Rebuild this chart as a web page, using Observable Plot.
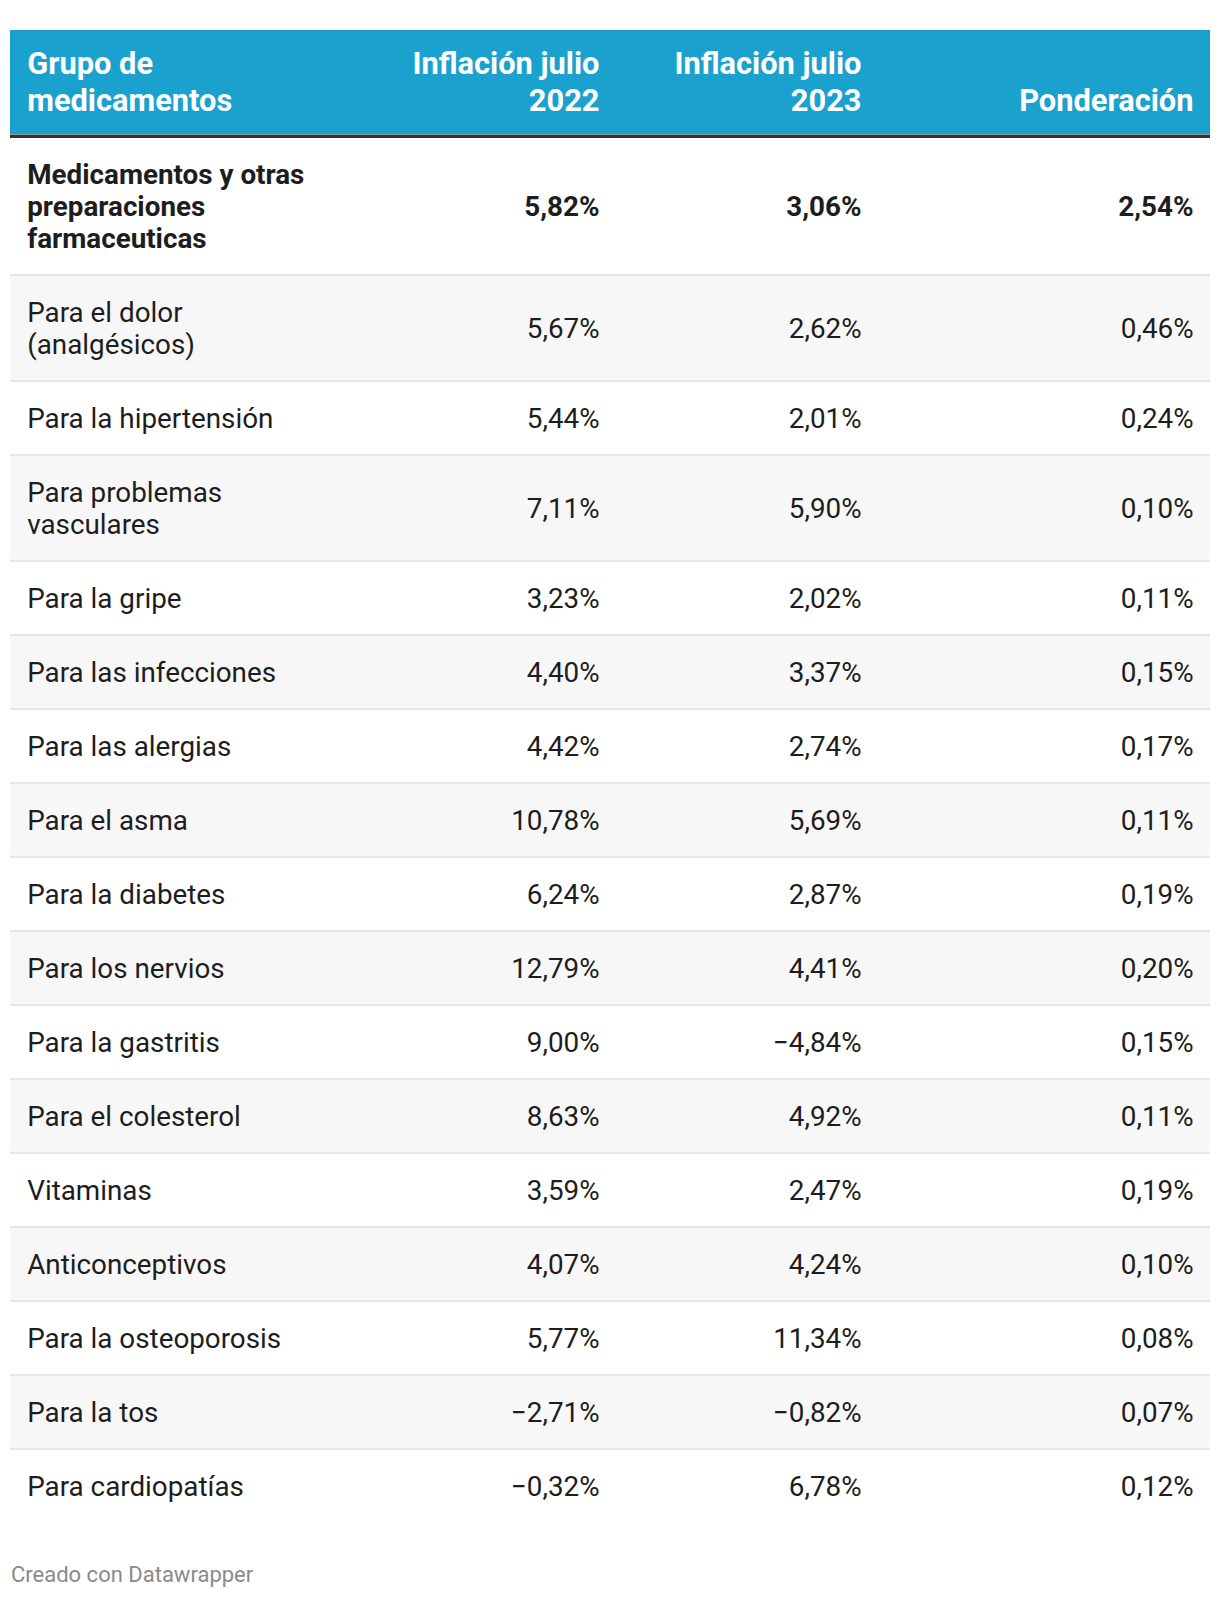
<!DOCTYPE html>
<html>
<head>
<meta charset="utf-8">
<script src="https://cdn.jsdelivr.net/npm/d3@7"></script>
<script src="https://cdn.jsdelivr.net/npm/@observablehq/plot@0.6"></script>
<style>
  html, body { margin: 0; padding: 0; background: #ffffff; }
  #footer { font-family: Roboto, "Liberation Sans", sans-serif; font-size: 22px; line-height: 25px; color: #8a8a8a; margin-left: 11px; padding-top: 7px; }
</style>
</head>
<body>
<div id="chart"></div>
<div id="footer"></div>
<script>
// ---- data ----
const headers = ["Grupo de\nmedicamentos", "Inflación julio\n2022", "Inflación julio\n2023", "Ponderación"];
const groups = [
  "Medicamentos y otras\npreparaciones\nfarmaceuticas",
  "Para el dolor\n(analgésicos)",
  "Para la hipertensión",
  "Para problemas\nvasculares",
  "Para la gripe",
  "Para las infecciones",
  "Para las alergias",
  "Para el asma",
  "Para la diabetes",
  "Para los nervios",
  "Para la gastritis",
  "Para el colesterol",
  "Vitaminas",
  "Anticonceptivos",
  "Para la osteoporosis",
  "Para la tos",
  "Para cardiopatías"
];
const infl2022 = [5.82, 5.67, 5.44, 7.11, 3.23, 4.40, 4.42, 10.78, 6.24, 12.79, 9.00, 8.63, 3.59, 4.07, 5.77, -2.71, -0.32];
const infl2023 = [3.06, 2.62, 2.01, 5.90, 2.02, 3.37, 2.74, 5.69, 2.87, 4.41, -4.84, 4.92, 2.47, 4.24, 11.34, -0.82, 6.78];
const ponderacion = [2.54, 0.46, 0.24, 0.10, 0.11, 0.15, 0.17, 0.11, 0.19, 0.20, 0.15, 0.11, 0.19, 0.10, 0.08, 0.07, 0.12];
const footerText = "Creado con Datawrapper";

// ---- layout ----
const W = 1220, H = 1555;
const tableLeft = 10, tableRight = 1210;
const headerTop = 30, headerBottom = 134, ruleY = 135.75, bodyTop = 137.5;
const headerBaseline = 110;
const colAnchors = [26.7, 599, 861, 1193];
const lineStep = 32, rowPad = 42, sepW = 2;
const bodySize = 27.8, headSize = 30.8;

const locale = d3.formatLocale({decimal: ",", thousands: ".", grouping: [3], currency: ["", "€"], minus: "\u2212"});
const fmt = v => locale.format(".2f")(v) + "%";

let cursor = bodyTop;
const rows = groups.map((g, i) => {
  const n = g.split("\n").length;
  const last = i === groups.length - 1;
  const pitch = rowPad + lineStep * n;
  const top = cursor;
  const bottom = top + pitch - sepW;
  cursor += pitch;
  return {
    i, label: g, n, top, bottom, mid: (top + bottom) / 2, sep: bottom + sepW / 2, last,
    shade: i % 2 === 1,
    v2022: fmt(infl2022[i]), v2023: fmt(infl2023[i]), vPond: fmt(ponderacion[i]),
    bold: i === 0
  };
});

const headerCells = headers.map((h, j) => ({text: h, x: colAnchors[j], j}));
const band = [{x1: tableLeft, x2: tableRight, y1: headerTop, y2: headerBottom}];

const valueCols = [["v2022", 1], ["v2023", 2], ["vPond", 3]];
const valueMarks = [];
for (const [key, j] of valueCols) {
  for (const bold of [true, false]) {
    valueMarks.push(Plot.text(rows.filter(r => r.bold === bold), {
      x: () => colAnchors[j], y: "mid", text: key,
      textAnchor: "end", lineAnchor: "middle", dy: 1.3,
      fontSize: bodySize, fontWeight: bold ? 700 : 400, fill: "#1d1d1d"
    }));
  }
}

const headOpts = {
  x: "x", y: () => headerBaseline, text: "text",
  lineAnchor: "bottom", lineHeight: 36.5 / headSize,
  fontSize: headSize, fontWeight: 700, fill: "#ffffff"
};

const chart = Plot.plot({
  width: W, height: H,
  margin: 0,
  x: {type: "linear", domain: [0, W], range: [0, W], axis: null},
  y: {type: "linear", domain: [0, H], range: [0, H], axis: null},
  style: {fontFamily: "Roboto, 'Liberation Sans', sans-serif", background: "#ffffff", overflow: "visible"},
  marks: [
    Plot.rect(rows.filter(r => r.shade), {x1: tableLeft, x2: tableRight, y1: "top", y2: "bottom", fill: "#f7f7f7"}),
    Plot.ruleY(rows.filter(r => !r.last), {y: "sep", x1: tableLeft, x2: tableRight, stroke: "#e6e6e6", strokeWidth: sepW}),
    Plot.rect(band, {x1: "x1", x2: "x2", y1: "y1", y2: "y2", fill: "#1aa1cd"}),
    Plot.ruleY([ruleY], {x1: tableLeft, x2: tableRight, stroke: "#333333", strokeWidth: 3.5}),
    Plot.text(headerCells.filter(d => d.j === 0), {...headOpts, textAnchor: "start"}),
    Plot.text(headerCells.filter(d => d.j > 0), {...headOpts, textAnchor: "end"}),
    Plot.text(rows.filter(r => r.bold), {
      x: () => colAnchors[0], y: "mid", text: "label", textAnchor: "start",
      lineAnchor: "middle", lineHeight: lineStep / bodySize, dy: 0,
      fontSize: bodySize, fontWeight: 700, fill: "#1d1d1d"
    }),
    Plot.text(rows.filter(r => !r.bold), {
      x: () => colAnchors[0], y: "mid", text: "label", textAnchor: "start",
      lineAnchor: "middle", lineHeight: lineStep / bodySize, dy: 0,
      fontSize: bodySize, fontWeight: 400, fill: "#1d1d1d"
    }),
    ...valueMarks
  ]
});

document.getElementById("chart").appendChild(chart);
document.getElementById("footer").textContent = footerText;
</script>
</body>
</html>
